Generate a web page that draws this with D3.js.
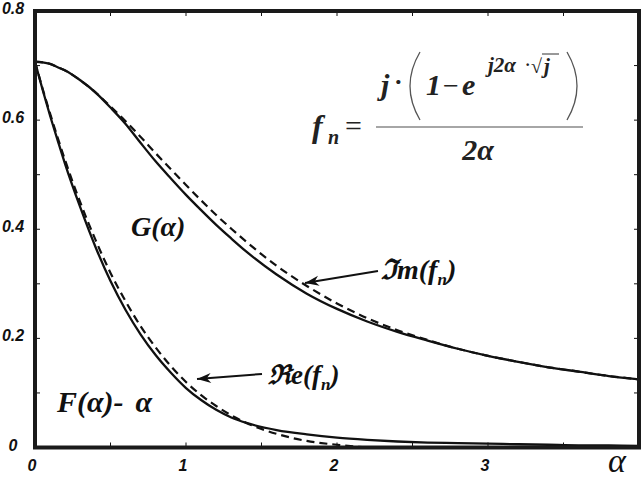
<!DOCTYPE html>
<html><head><meta charset="utf-8">
<script src="https://cdn.jsdelivr.net/npm/d3@7/dist/d3.min.js"></script>
<style>body{margin:0;background:#fff}svg{display:block}</style>
</head><body>
<script>
// ---- data ----
const alpha = [0,0.05,0.1,0.15,0.2,0.3,0.4,0.5,0.6,0.7,0.8,0.9,1.0,1.1,1.2,1.3,1.4,1.6,1.8,2.0,2.2,2.4,2.6,2.8,3.0,3.2,3.4,3.6,3.8,4.0];
const imFn  = [0.707,0.706,0.703,0.697,0.691,0.673,0.651,0.625,0.598,0.569,0.539,0.510,0.481,0.453,0.426,0.401,0.377,0.333,0.296,0.264,0.237,0.215,0.197,0.181,0.168,0.157,0.147,0.139,0.131,0.125];
const gAlpha= [0.707,0.706,0.703,0.697,0.691,0.673,0.651,0.623,0.593,0.558,0.524,0.493,0.463,0.435,0.408,0.383,0.359,0.317,0.282,0.254,0.231,0.212,0.196,0.181,0.168,0.157,0.147,0.139,0.131,0.125];
const reFn  = [0.707,0.658,0.612,0.568,0.526,0.449,0.381,0.320,0.268,0.222,0.183,0.149,0.120,0.096,0.076,0.059,0.045,0.025,0.012,0.005,0.000,-0.002,-0.003,-0.003,-0.002,-0.002,-0.001,-0.001,-0.001,0.000];
const fAlpha= [0.707,0.656,0.608,0.563,0.519,0.440,0.368,0.305,0.252,0.207,0.169,0.137,0.109,0.087,0.069,0.055,0.045,0.032,0.024,0.018,0.014,0.011,0.009,0.008,0.007,0.006,0.005,0.004,0.004,0.003];
const xTickLabels = ["0","1","2","3"];
const xTickVals = [0,1,2,3];
const yTickLabels = ["0","0.2","0.4","0.6","0.8"];
const yTickVals = [0,0.2,0.4,0.6,0.8];

const W=642,H=480;
const L=35,R=639,T=11,B=447.5;
const svg=d3.select("body").append("svg").attr("width",W).attr("height",H);
svg.append("rect").attr("width",W).attr("height",H).attr("fill","#fff");
const x=d3.scaleLinear().domain([0,4]).range([L,R]);
const y=d3.scaleLinear().domain([0,0.8]).range([B,T]);

svg.append("defs").append("clipPath").attr("id","clip")
  .append("rect").attr("x",L).attr("y",T).attr("width",R-L).attr("height",B-T);

// minor/major ticks (inward, all four sides)
const g=svg.append("g");
const xt=d3.range(0,4.01,0.5), yt=d3.range(0,0.801,0.1);
xt.forEach(v=>{
  g.append("line").attr("x1",x(v)).attr("x2",x(v)).attr("y1",B).attr("y2",B-5).attr("stroke","#111");
  g.append("line").attr("x1",x(v)).attr("x2",x(v)).attr("y1",T).attr("y2",T+5).attr("stroke","#111");
});
yt.forEach(v=>{
  g.append("line").attr("x1",L).attr("x2",L+5).attr("y1",y(v)).attr("y2",y(v)).attr("stroke","#111");
  g.append("line").attr("x1",R).attr("x2",R-5).attr("y1",y(v)).attr("y2",y(v)).attr("stroke","#111");
});

// curves
const mk=(arr)=>d3.line().x((d,i)=>x(alpha[i])).y(d=>y(d)).curve(d3.curveMonotoneX)(arr);
const cg=svg.append("g").attr("clip-path","url(#clip)");
cg.append("path").attr("d",mk(imFn)).attr("fill","none").attr("stroke","#111").attr("stroke-width",2.2).attr("stroke-dasharray","8,5");
cg.append("path").attr("d",mk(reFn)).attr("fill","none").attr("stroke","#111").attr("stroke-width",2.2).attr("stroke-dasharray","8,5");
cg.append("path").attr("d",mk(gAlpha)).attr("fill","none").attr("stroke","#111").attr("stroke-width",2.3);
cg.append("path").attr("d",mk(fAlpha)).attr("fill","none").attr("stroke","#111").attr("stroke-width",2.3);

// frame
svg.append("rect").attr("x",L).attr("y",T).attr("width",R-L).attr("height",B-T)
  .attr("fill","none").attr("stroke","#1a1a1a").attr("stroke-width",4);

// tick labels
const tf="'Liberation Sans', Arial, sans-serif";
xTickVals.forEach((v,i)=>{
  svg.append("text").attr("x",x(v)-3).attr("y",471).attr("text-anchor","middle")
    .attr("font-family",tf).attr("font-weight","bold").attr("font-style","italic").attr("font-size",16)
    .attr("fill","#111").text(xTickLabels[i]);
});
yTickVals.forEach((v,i)=>{
  svg.append("text").attr("x",13).attr("y",y(v)+3).attr("text-anchor","middle")
    .attr("font-family",tf).attr("font-weight","bold").attr("font-style","italic").attr("font-size",16)
    .attr("fill","#111").text(yTickLabels[i]);
});
svg.append("text").attr("x",617).attr("y",472).attr("text-anchor","middle")
  .attr("font-family","'Liberation Serif', serif").attr("font-style","italic").attr("font-size",34)
  .attr("fill","#111").text("α");

// curve labels
const sf="'Liberation Serif','Times New Roman',serif";
svg.append("text").attr("x",131).attr("y",236).attr("font-family",sf).attr("font-style","italic").attr("font-weight","bold")
  .attr("font-size",28).attr("fill","#111").text("G(α)");
const fl=svg.append("text").attr("x",57).attr("y",412).attr("font-family",sf).attr("font-style","italic").attr("font-weight","bold")
  .attr("font-size",30).attr("fill","#111");
fl.append("tspan").text("F(α)-");
fl.append("tspan").attr("dx",12).text("α");

// Im / Re labels with arrows
function arrow(x1,y1,x2,y2){
  svg.append("line").attr("x1",x1).attr("y1",y1).attr("x2",x2).attr("y2",y2).attr("stroke","#111").attr("stroke-width",2);
  const a=Math.atan2(y2-y1,x2-x1), len=14, w=5;
  const bx=x2-len*Math.cos(a), by=y2-len*Math.sin(a);
  const px=-Math.sin(a)*w, py=Math.cos(a)*w;
  svg.append("path").attr("d",`M${x2},${y2}L${bx+px},${by+py}L${bx+len*0.3*Math.cos(a)},${by+len*0.3*Math.sin(a)}L${bx-px},${by-py}Z`).attr("fill","#111");
}
arrow(378,271,305,283);
arrow(262,374,197,379);
const im=svg.append("text").attr("x",381).attr("y",279).attr("font-family",sf).attr("font-style","italic").attr("font-weight","bold")
  .attr("font-size",28).attr("fill","#111");
im.append("tspan").text("ℑm(f");
im.append("tspan").attr("font-size",17).attr("dy",6).text("n");
im.append("tspan").attr("dy",-6).text(")");
const re=svg.append("text").attr("x",268).attr("y",384).attr("font-family",sf).attr("font-style","italic").attr("font-weight","bold")
  .attr("font-size",27).attr("fill","#111");
re.append("tspan").text("ℜe(f");
re.append("tspan").attr("font-size",17).attr("dy",6).text("n");
re.append("tspan").attr("dy",-6).text(")");

// formula
const fc="#222";
const ft=(tx,ty,s,size,anchor)=>svg.append("text").attr("x",tx).attr("y",ty).attr("font-family",sf).attr("font-style","italic")
  .attr("font-weight","bold").attr("font-size",size).attr("fill",fc).attr("text-anchor",anchor||"start").text(s);
ft(312,137,"f",32);
ft(328,144,"n",20);
ft(345,136,"=",30).attr("font-style","normal").attr("font-weight","normal");
ft(381,95,"j",30);
ft(394,90,"·",26).attr("font-style","normal");
svg.append("path").attr("d","M420,52 Q400,86 420,120").attr("fill","none").attr("stroke","#555").attr("stroke-width",1.3);
ft(426,95,"1",30);
ft(443,95,"−",28).attr("font-style","normal").attr("font-weight","normal");
ft(462,95,"e",30);
ft(488,72,"j2α",21);
ft(525,70,"·",16).attr("font-style","normal");
ft(531,73,"√",20).attr("font-style","normal").attr("font-weight","normal");
svg.append("line").attr("x1",542).attr("x2",559).attr("y1",54).attr("y2",54).attr("stroke","#333").attr("stroke-width",1);
ft(544,73,"j",21);
svg.append("path").attr("d","M567,52 Q587,86 567,120").attr("fill","none").attr("stroke","#555").attr("stroke-width",1.3);
svg.append("line").attr("x1",376).attr("x2",583).attr("y1",127).attr("y2",127).attr("stroke","#888").attr("stroke-width",1.5);
ft(478,160,"2α",30,"middle");
</script>
</body></html>
